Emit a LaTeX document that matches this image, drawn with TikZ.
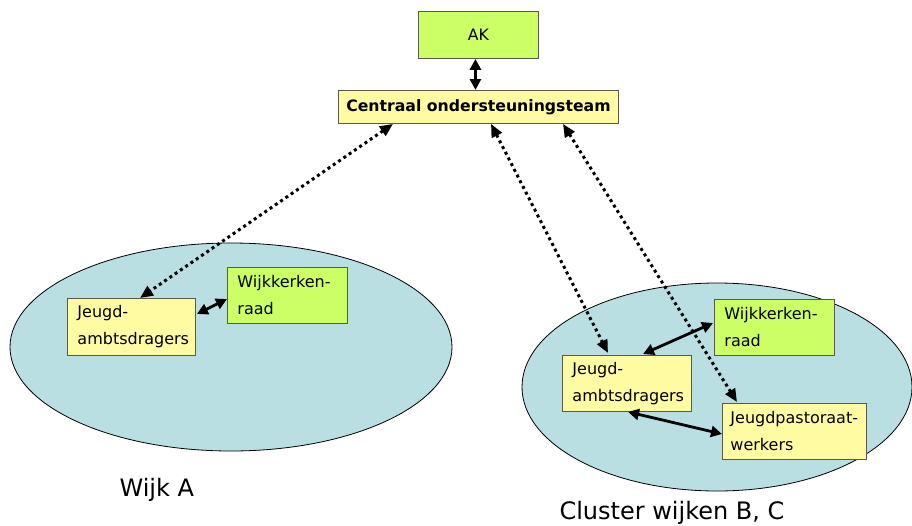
\documentclass[tikz,border=0pt]{standalone}
\usepackage{fontspec}
\setmainfont{DejaVu Sans}
\usetikzlibrary{arrows.meta,calc}
\definecolor{grn}{HTML}{CCFF66}
\definecolor{ylw}{HTML}{FFFBA3}
\definecolor{ell}{HTML}{B9DFE2}
\definecolor{brd}{HTML}{5A5A48}
\begin{document}
\begin{tikzpicture}[x=1pt,y=-1pt,
  box/.style={draw=brd, line width=0.9pt, inner xsep=10pt, inner ysep=0pt, anchor=north west,
    font=\fontsize{16}{27}\selectfont, align=left},
  cbox/.style={draw=brd, line width=0.9pt, inner sep=0pt, anchor=north west,
    font=\fontsize{15.7}{18}\selectfont, align=center},
  solidarr/.style={line width=2.8pt, {Triangle[length=11pt,width=11pt]}-{Triangle[length=11pt,width=11pt]}},
  dotarr/.style={line width=3pt, dash pattern=on 3pt off 3.4pt, {Triangle[length=13pt,width=11pt]}-{Triangle[length=13pt,width=11pt]}},
  ellfill/.style={draw=black, line width=0.8pt, fill=ell},
  lbl/.style={anchor=base west, font=\fontsize{24}{26}\selectfont}
]
\useasboundingbox (0,0) rectangle (912,525);

% ellipses
\draw[ellfill] (231,347) ellipse [x radius=221pt, y radius=104pt];
\draw[ellfill] (717,387) ellipse [x radius=195pt, y radius=104pt];

% top nodes
\node[cbox, fill=grn, minimum width=120pt, minimum height=47pt] (ak) at (418,11) {AK};
\node[cbox, fill=ylw, minimum width=280pt, minimum height=33pt, font=\fontsize{15.7}{18}\selectfont\bfseries] (ce) at (338,90) {Centraal ondersteuningsteam};

% left cluster
\node[box, fill=ylw, text width=108pt, minimum height=57pt] (ja) at (67,298) {Jeugd-\\ambtsdragers};
\node[box, fill=grn, text width=100pt, minimum height=56pt] (wa) at (227,267) {Wijkkerken-\\raad};

% right cluster
\node[box, fill=ylw, text width=109pt, minimum height=56pt] (jb) at (562,355) {Jeugd-\\ambtsdragers};
\node[box, fill=grn, text width=100pt, minimum height=56pt] (wb) at (714,299) {Wijkkerken-\\raad};
\node[box, fill=ylw, inner xsep=8pt, text width=128pt, minimum height=56pt] (jp) at (722,403) {\mbox{Jeugdpastoraat-}\\werkers};

% labels
\node[lbl] (la) at (116,496) {Wijk A};
\node[lbl] (lb) at (556,519) {Cluster wijken B, C};

% connectors
\draw[solidarr] ($(ak.south)+(-3,0)$) -- ($(ak.south |- ce.north)+(-3,0)$);
\draw[solidarr] ($(ja.north east)+(1,16)$) -- ($(wa.north west)+(0,32)$);
\draw[solidarr] ($(jb.north west)+(81,-1)$) -- ($(wb.north west)+(-1,24)$);
\draw[solidarr] ($(jb.south west)+(66,0)$) -- ($(jp.north west)+(0,31)$);

\draw[dotarr] ($(ce.south west)+(55,0)$) -- ($(ja.north west)+(73,0)$);
\draw[dotarr] ($(ce.south west)+(153,0)$) -- ($(jb.north west)+(46,-2)$);
\draw[dotarr] ($(ce.south west)+(225,0)$) -- ($(jp.north west)+(15,-1)$);
\end{tikzpicture}
\end{document}
